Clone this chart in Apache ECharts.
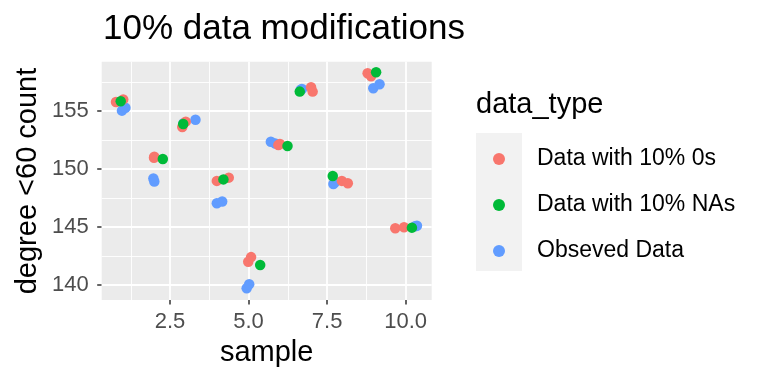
<!DOCTYPE html>
<html>
<head>
<meta charset="utf-8">
<script src="https://cdn.jsdelivr.net/npm/echarts@6/dist/echarts.min.js"></script>
<style>html,body{margin:0;padding:0;background:#fff;}#c{width:768px;height:384px;}</style>
</head>
<body>
<div id="c"></div>
<script>
// ---- data ----
const seriesNames = ['Data with 10% 0s', 'Data with 10% NAs', 'Obseved Data'];
const zerosX = [0.78, 1.01, 1.99, 2.00, 2.89, 3.00, 3.99, 4.37, 4.99, 5.08, 5.95, 6.00, 6.99, 7.04, 7.97, 8.16, 8.79, 8.90, 9.67, 9.95];
const zerosY = [155.78, 156.00, 150.97, 151.05, 153.62, 154.08, 148.97, 149.25, 142.00, 142.40, 152.07, 152.15, 157.04, 156.67, 148.97, 148.77, 158.25, 158.00, 144.89, 144.97];
const nasX = [0.93, 2.27, 2.92, 4.20, 5.37, 6.24, 6.63, 7.68, 9.06, 10.20];
const nasY = [155.84, 150.86, 153.88, 149.10, 141.72, 151.98, 156.67, 149.40, 158.34, 144.94];
const obsX = [0.97, 1.08, 1.97, 2.00, 2.93, 3.31, 3.99, 4.16, 4.94, 5.02, 5.71, 5.85, 6.66, 6.70, 7.70, 7.75, 8.97, 9.17, 10.30, 10.36];
const obsY = [155.03, 155.28, 149.18, 148.92, 153.95, 154.25, 147.04, 147.20, 139.72, 140.06, 152.35, 152.20, 156.84, 156.90, 148.71, 148.85, 156.96, 157.30, 145.05, 145.11];
const xTicks = [2.5, 5.0, 7.5, 10.0];
const xMinor = [1.25, 3.75, 6.25, 8.75];
const yTicks = [140, 145, 150, 155];
const yMinor = [142.5, 147.5, 152.5, 157.5];
const xRange = [0.325, 10.83];
const yRange = [138.7, 159.25];
// ---------------

const colors = ['#F8766D', '#00BA38', '#619CFF'];
const zip = (xs, ys) => xs.map((x, i) => [x, ys[i]]);
const FONT = 'Liberation Sans, Arial, Helvetica, sans-serif';

const chart = echarts.init(document.getElementById('c'), null, {renderer: 'canvas'});

function gridLines(vals, key, w) {
  return {
    z: 1, symbol: 'none', silent: true, animation: false,
    label: {show: false},
    lineStyle: {color: '#FFFFFF', width: w, type: 'solid'},
    emphasis: {disabled: true},
    data: vals.map(v => ({[key]: v}))
  };
}

const option = {
  animation: false,
  color: colors,
  grid: {left: 101.7, right: 768 - 431.7, top: 61.7, bottom: 384 - 300, show: true, backgroundColor: '#EBEBEB', borderWidth: 0},
  xAxis: {
    type: 'value', min: xRange[0], max: xRange[1],
    axisLine: {show: false},
    axisTick: {show: true, customValues: xTicks, length: 4.5, lineStyle: {color: '#333333', width: 1.5}},
    axisLabel: {customValues: xTicks, formatter: v => v.toFixed(1), margin: 11, fontFamily: FONT, fontSize: 22, lineHeight: 22, color: '#4D4D4D'},
    splitLine: {show: false}
  },
  yAxis: {
    type: 'value', min: yRange[0], max: yRange[1],
    axisLine: {show: false},
    axisTick: {show: true, customValues: yTicks, length: 4.5, lineStyle: {color: '#333333', width: 1.5}},
    axisLabel: {customValues: yTicks, formatter: v => String(v), margin: 13, fontFamily: FONT, fontSize: 22, color: '#4D4D4D'},
    splitLine: {show: false}
  },
  legend: {
    orient: 'vertical', left: 488, top: 142, itemGap: 22, padding: 5,
    itemWidth: 12, itemHeight: 12, icon: 'circle', selectedMode: false,
    data: seriesNames,
    textStyle: {fontFamily: FONT, fontSize: 23, lineHeight: 24, color: '#000000', padding: [0, 0, 0, 27]}
  },
  graphic: [
    {type: 'rect', z: 0, silent: true, shape: {x: 476, y: 133, width: 46, height: 138}, style: {fill: '#F2F2F2'}},
    {type: 'text', silent: true, x: 103, y: 29, style: {text: '10% data modifications', font: '35px ' + FONT, fill: '#000', textAlign: 'left', textVerticalAlign: 'middle'}},
    {type: 'text', silent: true, x: 266.7, y: 353, style: {text: 'sample', font: '29px ' + FONT, fill: '#000', textAlign: 'center', textVerticalAlign: 'middle'}},
    {type: 'text', silent: true, x: 27.5, y: 181, rotation: Math.PI / 2, style: {text: 'degree <60 count', font: '29px ' + FONT, fill: '#000', textAlign: 'center', textVerticalAlign: 'middle'}},
    {type: 'text', silent: true, x: 476, y: 105, style: {text: 'data_type', font: '29px ' + FONT, fill: '#000', textAlign: 'left', textVerticalAlign: 'middle'}}
  ],
  series: [
    {type: 'line', name: '_g1', data: [], z: 1, silent: true, markLine: gridLines(xMinor, 'xAxis', 0.9)},
    {type: 'line', name: '_g2', data: [], z: 1, silent: true, markLine: gridLines(yMinor, 'yAxis', 0.9)},
    {type: 'line', name: '_g3', data: [], z: 1, silent: true, markLine: gridLines(xTicks, 'xAxis', 1.8)},
    {type: 'line', name: '_g4', data: [], z: 1, silent: true, markLine: gridLines(yTicks, 'yAxis', 1.8)},
    {type: 'scatter', name: seriesNames[2], data: zip(obsX, obsY), symbolSize: 10.5, itemStyle: {color: colors[2], opacity: 1}, z: 3},
    {type: 'scatter', name: seriesNames[0], data: zip(zerosX, zerosY), symbolSize: 10.5, itemStyle: {color: colors[0], opacity: 1}, z: 4},
    {type: 'scatter', name: seriesNames[1], data: zip(nasX, nasY), symbolSize: 10.5, itemStyle: {color: colors[1], opacity: 1}, z: 5}
  ]
};
chart.setOption(option);
</script>
</body>
</html>
